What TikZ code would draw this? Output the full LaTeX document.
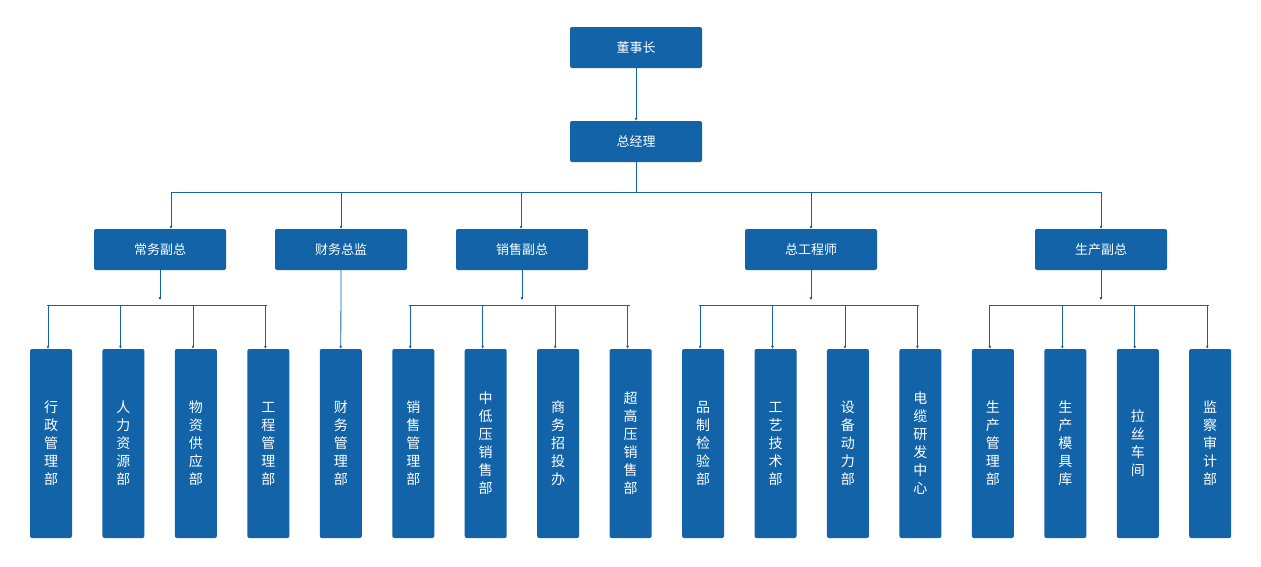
\documentclass[tikz,border=0pt]{standalone}
\usepackage{fontspec}
\setmainfont{Noto Sans CJK SC}
\usetikzlibrary{arrows.meta}
\definecolor{orgblue}{RGB}{18,99,168}
\begin{document}
\begin{tikzpicture}[x=1pt,y=-1pt,
	box/.style={fill=orgblue,text=white,rounded corners=2pt,minimum width=132pt,minimum height=41pt,font=\fontsize{13}{15}\selectfont},
	col/.style={fill=orgblue,text=white,rounded corners=2pt,minimum width=42pt,minimum height=189pt,align=center,font=\fontsize{14}{18}\selectfont},
	link/.style={orgblue,line width=0.8pt},
	arr/.style={link,-{Latex[length=3pt,width=3pt]}}]
	\useasboundingbox (0,0) rectangle (1261,566);
	% top
	\node[box] (chair) at (636,47.5) {董事长};
	\node[box] (gm) at (636,141.5) {总经理};
	\draw[arr] (chair) -- (gm);
	% second level
	\node[box] (cw) at (160,249.5) {常务副总};
	\node[box] (cj) at (341,249.5) {财务总监};
	\node[box] (xs) at (522,249.5) {销售副总};
	\node[box] (zg) at (811,249.5) {总工程师};
	\node[box] (sc) at (1101,249.5) {生产副总};
	\coordinate (bus) at (636,192);
	\draw[link] (gm.south) -- (bus);
	\draw[link] (171,192) -- (1101,192);
	\foreach \x/\n in {171/cw,341/cj,521/xs,811/zg,1101/sc}
		\draw[arr] (\x,192) -- (\x,229);
	% third level
	\foreach \i/\t in {1/行\\政\\管\\理\\部,2/人\\力\\资\\源\\部,3/物\\资\\供\\应\\部,4/工\\程\\管\\理\\部,
		5/财\\务\\管\\理\\部,6/销\\售\\管\\理\\部,7/中\\低\\压\\销\\售\\部,8/商\\务\\招\\投\\办,
		9/超\\高\\压\\销\\售\\部,10/品\\制\\检\\验\\部,11/工\\艺\\技\\术\\部,12/设\\备\\动\\力\\部,
		13/电\\缆\\研\\发\\中\\心,14/生\\产\\管\\理\\部,15/生\\产\\模\\具\\库,16/拉\\丝\\车\\间,17/监\\察\\审\\计\\部}
		\node[col] (d\i) at ({51+72.45*(\i-1)},443.5) {\t};
	\draw[arr] (cj.south) -- (d5.north);
	\foreach \p/\a/\b in {cw/1/4,xs/6/9,zg/10/13,sc/14/17}{
		\draw[arr] (\p.south) -- ++(0,30);
		\draw[link] ([xshift=-4pt]d\a.north|-0,305) -- ([xshift=-1pt]d\b.north|-0,305);
		\foreach \k in {\a,...,\b}
			\draw[arr] ([xshift=-3pt]d\k.north|-0,305) -- ([xshift=-3pt]d\k.north);
	}
\end{tikzpicture}
\end{document}
